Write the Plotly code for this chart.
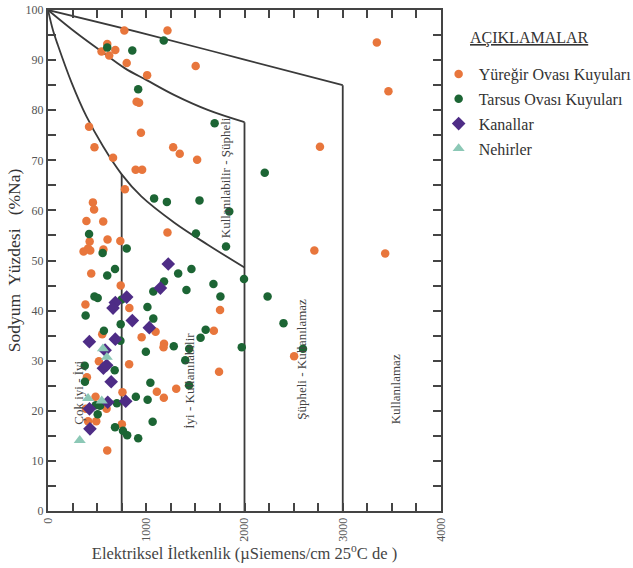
import plotly.graph_objects as go

# Electrical conductivity (µS/cm at 25 °C) and sodium percentage (%Na)
yuregir_ec = [777, 1216, 545, 603, 623, 685, 801, 1009, 1503, 902, 927, 946, 418, 473, 662,
              1274, 1341, 1518, 892, 958, 783, 457, 469, 391, 562, 1216, 606, 736, 424, 408,
              362, 430, 564, 440, 740, 381, 828, 552, 953, 1095, 1181, 1176, 518, 826, 396,
              758, 1108, 1179, 1305, 1688, 1751, 1741, 484, 386, 408, 491, 596, 752, 603,
              3347, 3465, 2768, 2711, 3432, 2505]
yuregir_na = [95.9, 95.9, 91.7, 93.2, 90.9, 92.0, 89.4, 87.0, 88.8, 81.7, 81.5, 75.5, 76.7, 72.6, 70.5,
              72.6, 71.3, 70.1, 68.1, 68.1, 64.2, 61.6, 60.2, 57.9, 57.8, 55.6, 54.2, 53.9, 53.8, 52.4,
              51.8, 52.0, 52.2, 47.4, 45.0, 41.2, 40.5, 35.3, 34.7, 35.8, 33.4, 32.7, 29.9, 29.3, 26.7,
              23.7, 23.8, 22.6, 24.4, 36.0, 40.1, 27.8, 22.8, 20.4, 17.9, 17.9, 20.4, 17.3, 12.1,
              93.5, 83.8, 72.7, 52.0, 51.4, 30.9]

tarsus_ec = [603, 858, 1178, 918, 1696, 1080, 1210, 1542, 1845, 1506, 1812, 418, 556, 801, 682,
             603, 473, 506, 750, 383, 569, 740, 737, 374, 679, 376, 701, 486, 530, 506, 682,
             763, 806, 918, 894, 1014, 1065, 1042, 996, 1012, 1072, 1072, 1181, 1325, 1460, 1409,
             1280, 1437, 1397, 1436, 1553, 1605, 1684, 1755, 1972, 1995, 2206, 2235, 2397, 2595]
tarsus_na = [92.5, 91.9, 93.9, 84.2, 77.4, 62.4, 61.7, 62.0, 59.8, 55.4, 52.8, 55.3, 51.5, 52.4, 48.3,
             47.0, 42.8, 42.5, 42.2, 39.0, 36.0, 37.3, 34.0, 29.0, 28.1, 25.8, 21.5, 21.1, 21.0, 19.3, 16.7,
             16.0, 15.1, 14.5, 22.8, 22.2, 17.8, 25.6, 31.8, 40.7, 38.4, 43.8, 45.8, 47.4, 48.3, 44.1,
             32.9, 32.4, 30.1, 25.1, 34.6, 36.2, 45.3, 42.8, 32.7, 46.3, 67.5, 42.8, 37.5, 32.4]

kanal_ec = [1224, 1144, 801, 685, 662, 858, 1031, 421, 685, 581, 564, 597, 643, 608, 791, 422, 427]
kanal_na = [49.3, 44.5, 42.7, 41.6, 40.5, 38.0, 36.6, 33.8, 34.3, 32.1, 28.5, 29.1, 25.8, 21.7, 21.9, 20.4, 16.4]

nehir_ec = [559, 599, 408, 547, 323]
nehir_na = [32.4, 30.7, 22.5, 22.0, 14.1]

# Class boundary curves of the diagram
outer_ec = [0, 1000, 2000, 3000]
outer_na = [100, 95.2, 90.1, 85.0]
middle_ec = [0, 290, 525, 780, 1004, 1287, 1632, 2000]
middle_na = [100, 95.4, 92.0, 88.4, 86.0, 83.0, 80.0, 77.6]
inner_ec = [0, 50, 100, 240, 390, 560, 750, 950, 1290, 1630, 2000]
inner_na = [100, 96.0, 93.0, 85.5, 78.8, 72.8, 67.2, 62.8, 57.5, 53.1, 48.6]
limit_ec = [750, 2000, 3000]
limit_top = [67.2, 77.6, 85.0]

# Class names written inside the diagram
class_names = ["Çok iyi - İyi", "İyi - Kullanılabilir", "Kullanılabilir - Şüpheli",
               "Şüpheli - Kullanılamaz", "Kullanılamaz"]
class_ec = [310, 1440, 1815, 2581, 3538]
class_na = [23.7, 26.1, 66.5, 30.3, 24.2]

SERIF = "Liberation Serif, Times New Roman, serif"
LINE_COLOR = "#3a3a3a"

fig = go.Figure()

for xs, ys in [(outer_ec, outer_na), (middle_ec, middle_na), (inner_ec, inner_na)]:
    fig.add_trace(go.Scatter(x=xs, y=ys, mode="lines", line=dict(color=LINE_COLOR, width=1.8, shape="spline"),
                             showlegend=False, hoverinfo="skip"))
for xv, top in zip(limit_ec, limit_top):
    fig.add_trace(go.Scatter(x=[xv, xv], y=[top, 0], mode="lines", line=dict(color=LINE_COLOR, width=1.8),
                             showlegend=False, hoverinfo="skip"))

series = [
    ("Yüreğir Ovası Kuyuları", yuregir_ec, yuregir_na, "circle", "#E8763C", 8.5),
    ("Tarsus Ovası Kuyuları", tarsus_ec, tarsus_na, "circle", "#1C6534", 8.5),
    ("Kanallar", kanal_ec, kanal_na, "diamond", "#4E2C86", 10.5),
    ("Nehirler", nehir_ec, nehir_na, "triangle-up", "#8CC8B6", 10.5),
]
for i, (name, xs, ys, sym, col, size) in enumerate(series):
    fig.add_trace(go.Scatter(x=xs, y=ys, mode="markers", name=name, legendgroup=f"g{i}",
                             marker=dict(symbol=sym, color=col, size=size, line=dict(width=0))))

for txt, xv, yv in zip(class_names, class_ec, class_na):
    fig.add_annotation(x=xv, y=yv, text=txt, textangle=-90, showarrow=False,
                       font=dict(family=SERIF, size=13, color="#444"))

fig.add_annotation(xref="paper", yref="paper", x=1.068, y=0.944, xanchor="left", yanchor="middle",
                   text="<u>AÇIKLAMALAR</u>", showarrow=False,
                   font=dict(family=SERIF, size=16, color="#333"))

axis_common = dict(showline=True, linecolor="#444", linewidth=2, mirror="ticks",
                   ticks="inside", ticklen=8, tickwidth=1.5, tickcolor="#444",
                   showgrid=False, zeroline=False, fixedrange=True,
                   tickfont=dict(family=SERIF, size=12, color="#555"))

fig.update_xaxes(range=[0, 4000], dtick=1000, tickangle=-90,
                 minor=dict(dtick=250, ticks="inside", ticklen=8, tickwidth=1.5, tickcolor="#444", showgrid=False),
                 title=dict(text="Elektriksel İletkenlik (µSiemens/cm 25<sup>o</sup>C de )",
                            font=dict(family=SERIF, size=16.5, color="#444"), standoff=0),
                 **axis_common)
fig.update_yaxes(range=[0, 100], dtick=10,
                 minor=dict(dtick=5, ticks="inside", ticklen=8, tickwidth=1.5, tickcolor="#444", showgrid=False),
                 title=dict(text="Sodyum  Yüzdesi   (%Na)",
                            font=dict(family=SERIF, size=17.5, color="#333"), standoff=0),
                 **axis_common)

fig.update_layout(
    width=633, height=568,
    margin=dict(l=48, r=192, t=10, b=57, autoexpand=False),
    paper_bgcolor="white", plot_bgcolor="white",
    legend=dict(x=0.994, y=0.906, xanchor="left", yanchor="top",
                font=dict(family=SERIF, size=16, color="#333"),
                tracegroupgap=1, traceorder="grouped", bgcolor="rgba(0,0,0,0)"),
)

fig.write_html("out.html")
